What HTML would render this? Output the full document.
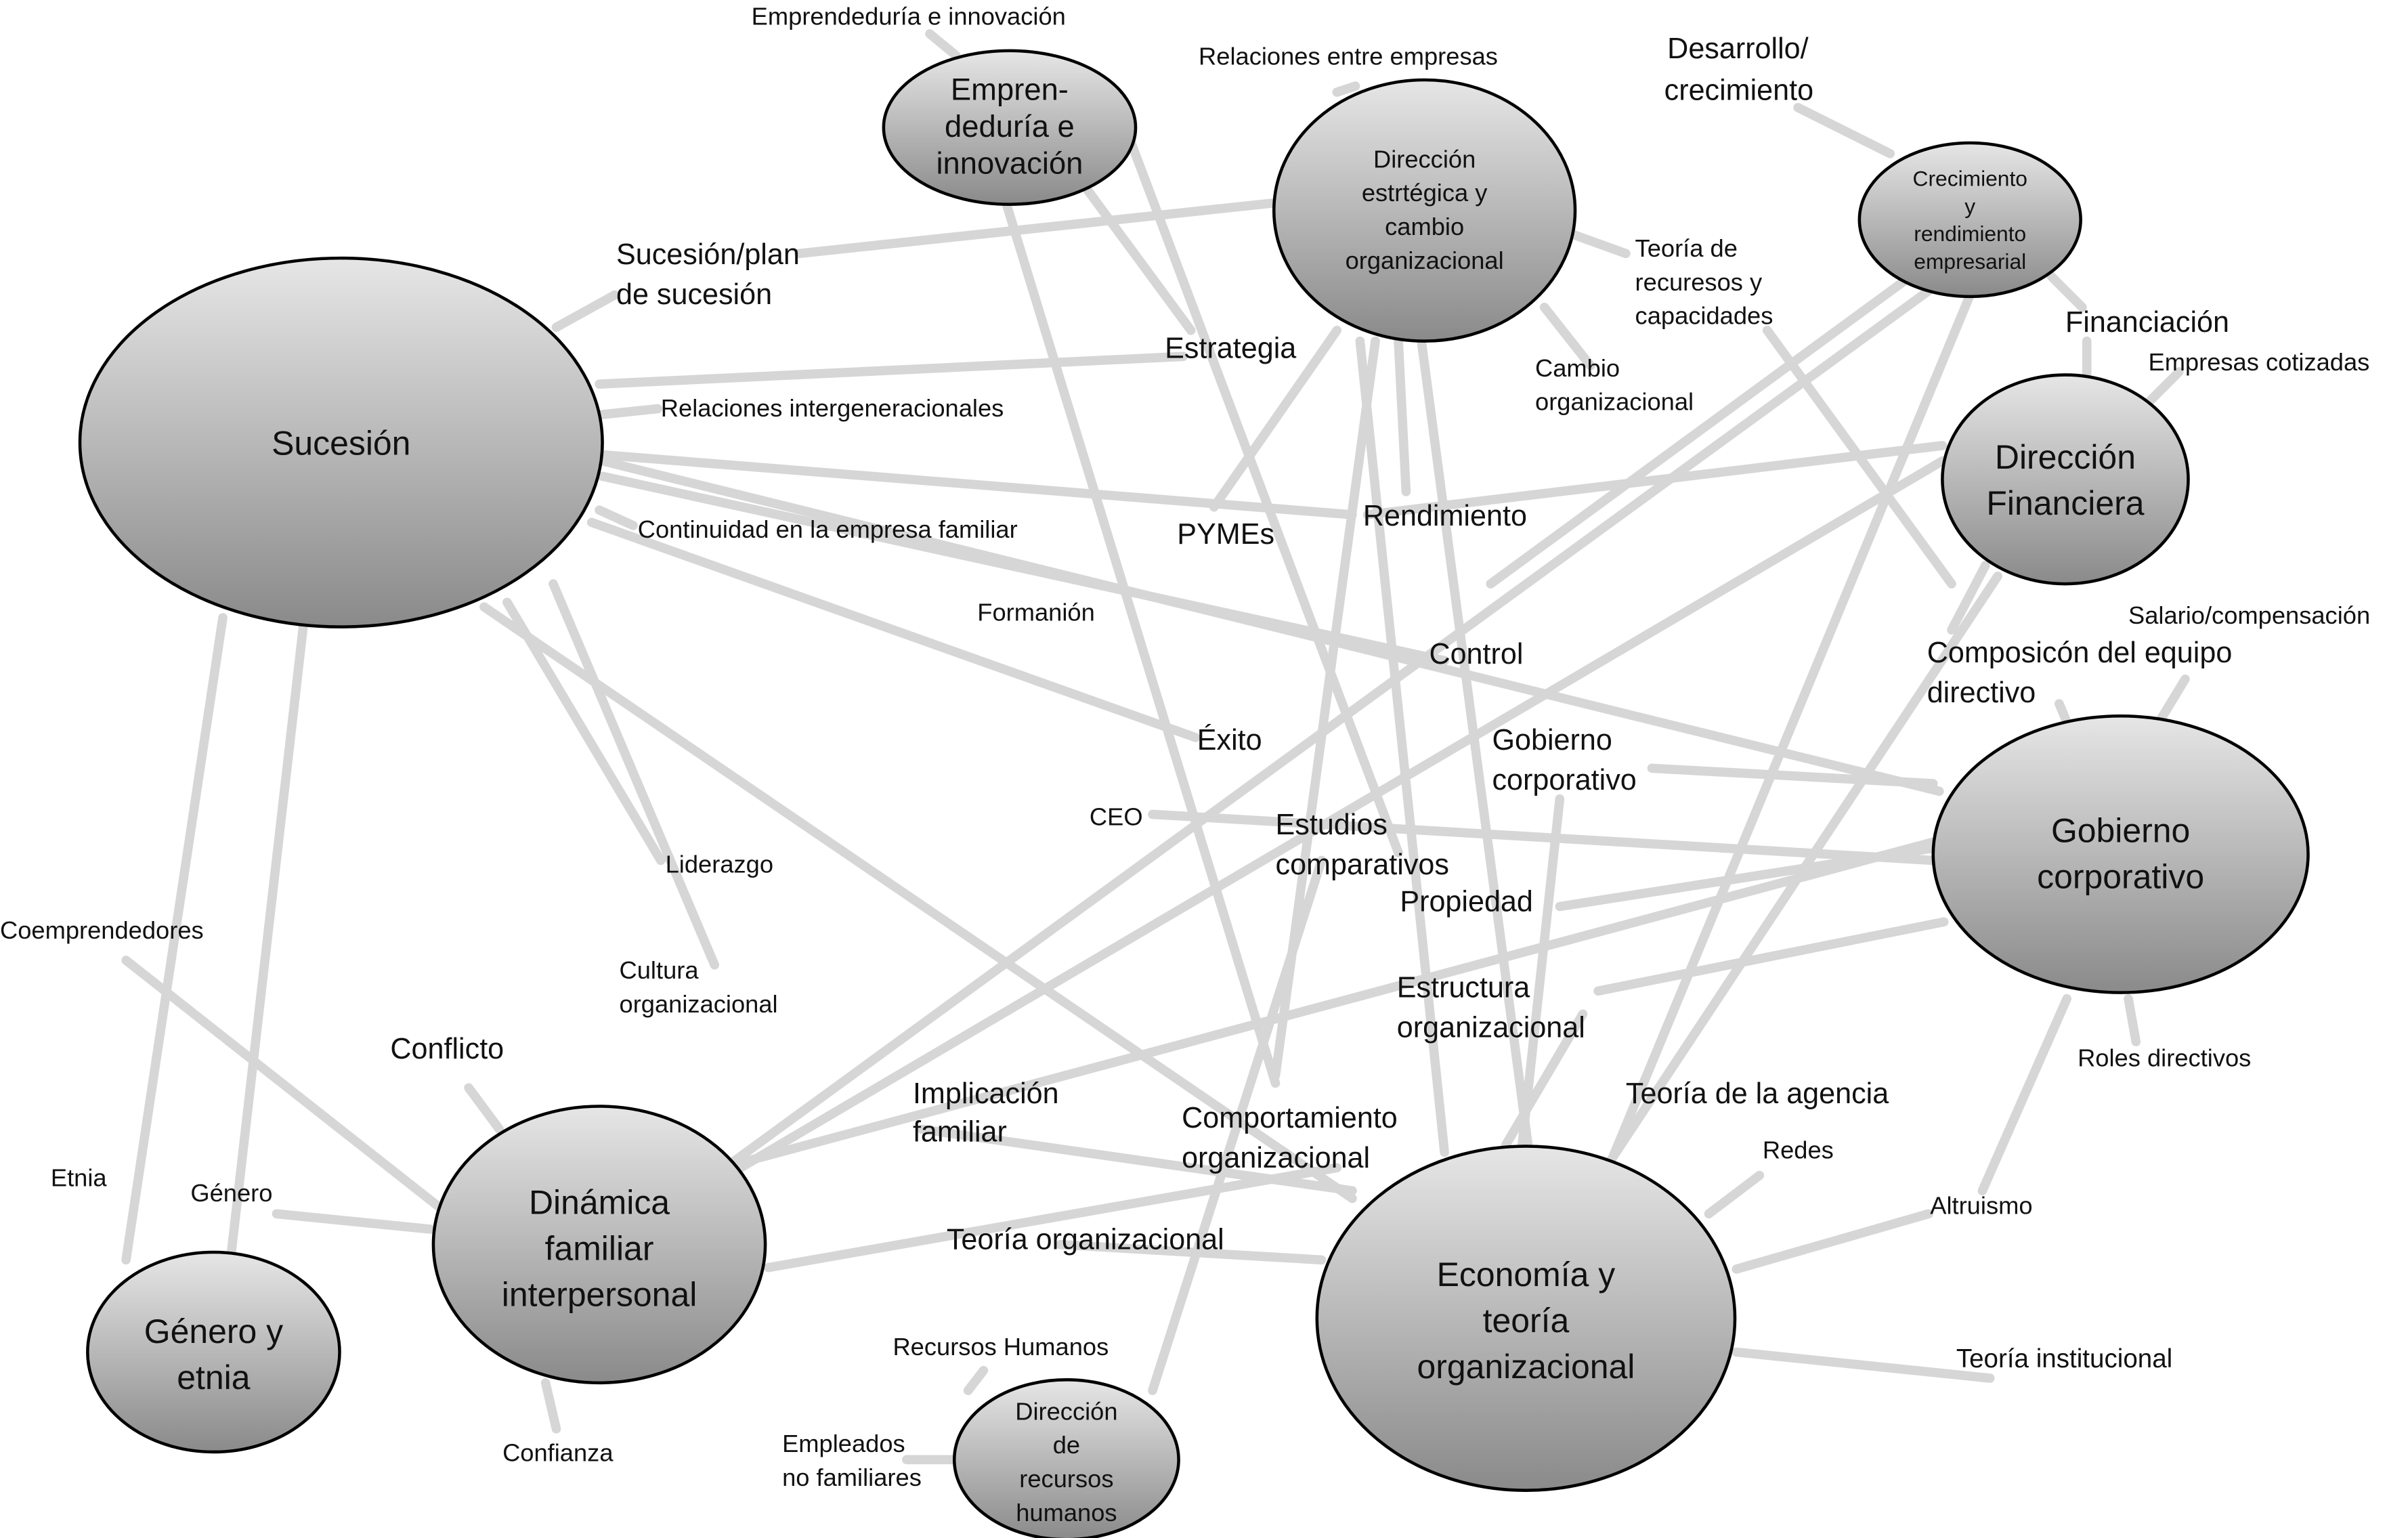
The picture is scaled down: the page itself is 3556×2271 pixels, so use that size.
<!DOCTYPE html>
<html><head><meta charset="utf-8"><style>
html,body{margin:0;padding:0;background:#fff;}
svg{display:block;}
text{font-family:"Liberation Sans",sans-serif;fill:#111;}
</style></head><body>
<svg width="3556" height="2271" viewBox="0 0 1567 1001" preserveAspectRatio="none" xmlns="http://www.w3.org/2000/svg">
<defs>
<linearGradient id="g" x1="0" y1="0" x2="0" y2="1">
<stop offset="0" stop-color="#e6e6e6"/><stop offset="1" stop-color="#8a8a8a"/>
</linearGradient>
</defs>
<g stroke="#d6d6d6" stroke-width="6" stroke-linecap="round" fill="none">
<!-- Sucesión edges -->
<line x1="362" y1="213" x2="400" y2="192"/>
<line x1="390" y1="250" x2="770" y2="232"/>
<line x1="390" y1="270" x2="428" y2="266"/>
<line x1="392" y1="296" x2="880" y2="335"/>
<line x1="392" y1="300" x2="1262" y2="515"/>
<line x1="392" y1="310" x2="940" y2="430"/>
<line x1="390" y1="332" x2="412" y2="342"/>
<line x1="385" y1="340" x2="778" y2="480"/>
<line x1="360" y1="380" x2="465" y2="628"/>
<line x1="330" y1="392" x2="430" y2="560"/>
<line x1="315" y1="395" x2="880" y2="780"/>
<line x1="145" y1="402" x2="82" y2="820"/>
<line x1="198" y1="402" x2="150" y2="820"/>
<line x1="82" y1="625" x2="285" y2="785"/>
<!-- Emprendeduría -->
<line x1="605" y1="22" x2="622" y2="36"/>
<line x1="655" y1="133" x2="830" y2="705"/>
<line x1="705" y1="120" x2="775" y2="215"/>
<line x1="735" y1="90" x2="910" y2="555"/>
<!-- Dirección estratégica -->
<line x1="520" y1="165" x2="830" y2="132"/>
<line x1="870" y1="60" x2="882" y2="56"/>
<line x1="885" y1="222" x2="940" y2="750"/>
<line x1="910" y1="222" x2="915" y2="320"/>
<line x1="925" y1="222" x2="995" y2="750"/>
<line x1="895" y1="222" x2="830" y2="700"/>
<line x1="870" y1="215" x2="790" y2="330"/>
<line x1="1005" y1="200" x2="1035" y2="238"/>
<line x1="1022" y1="152" x2="1058" y2="165"/>
<line x1="1150" y1="215" x2="1270" y2="380"/>
<!-- Crecimiento -->
<line x1="1230" y1="100" x2="1170" y2="70"/>
<line x1="1335" y1="180" x2="1355" y2="200"/>
<line x1="1265" y1="182" x2="465" y2="765"/>
<line x1="1250" y1="175" x2="970" y2="380"/>
<line x1="1282" y1="192" x2="1050" y2="752"/>
<!-- Dirección Financiera -->
<line x1="1264" y1="290" x2="890" y2="335"/>
<line x1="1264" y1="300" x2="465" y2="770"/>
<line x1="1358" y1="245" x2="1358" y2="222"/>
<line x1="1398" y1="262" x2="1418" y2="242"/>
<line x1="1292" y1="368" x2="1270" y2="410"/>
<line x1="1300" y1="375" x2="1045" y2="760"/>
<!-- Gobierno corporativo -->
<line x1="1258" y1="560" x2="750" y2="530"/>
<line x1="1258" y1="552" x2="1015" y2="590"/>
<line x1="1258" y1="510" x2="1075" y2="500"/>
<line x1="1258" y1="548" x2="470" y2="760"/>
<line x1="1265" y1="600" x2="1040" y2="645"/>
<line x1="1345" y1="470" x2="1340" y2="458"/>
<line x1="1405" y1="470" x2="1422" y2="442"/>
<line x1="1345" y1="650" x2="1290" y2="775"/>
<line x1="1385" y1="650" x2="1390" y2="678"/>
<line x1="1015" y1="520" x2="990" y2="750"/>
<!-- Economía -->
<line x1="1112" y1="790" x2="1145" y2="765"/>
<line x1="1130" y1="826" x2="1255" y2="790"/>
<line x1="1130" y1="880" x2="1295" y2="897"/>
<line x1="860" y1="820" x2="690" y2="810"/>
<line x1="880" y1="775" x2="600" y2="735"/>
<line x1="980" y1="745" x2="1030" y2="660"/>
<!-- Dinámica -->
<line x1="325" y1="735" x2="305" y2="708"/>
<line x1="280" y1="800" x2="180" y2="790"/>
<line x1="355" y1="900" x2="362" y2="930"/>
<line x1="500" y1="825" x2="870" y2="760"/>
<!-- RRHH -->
<line x1="630" y1="905" x2="640" y2="892"/>
<line x1="622" y1="950" x2="590" y2="950"/>
<line x1="750" y1="905" x2="860" y2="560"/>
</g>
<g stroke="#000" stroke-width="2" fill="url(#g)">
<ellipse cx="222" cy="288" rx="170" ry="120"/>
<ellipse cx="657" cy="83" rx="82" ry="50"/>
<ellipse cx="927" cy="137" rx="98" ry="85"/>
<ellipse cx="1282" cy="143" rx="72" ry="50"/>
<ellipse cx="1344" cy="312" rx="80" ry="68"/>
<ellipse cx="1380" cy="556" rx="122" ry="90"/>
<ellipse cx="993" cy="858" rx="136" ry="112"/>
<ellipse cx="390" cy="810" rx="108" ry="90"/>
<ellipse cx="139" cy="880" rx="82" ry="65"/>
<ellipse cx="694" cy="950" rx="73" ry="52"/>
</g>
<g text-anchor="middle">
<text x="222" y="296" font-size="22">Sucesión</text>
<text x="657" y="65" font-size="20">Empren-</text>
<text x="657" y="89" font-size="20">deduría e</text>
<text x="657" y="113" font-size="20">innovación</text>
<text x="927" y="109" font-size="16">Dirección</text>
<text x="927" y="131" font-size="16">estrtégica y</text>
<text x="927" y="153" font-size="16">cambio</text>
<text x="927" y="175" font-size="16">organizacional</text>
<text x="1282" y="121" font-size="14">Crecimiento</text>
<text x="1282" y="139" font-size="14">y</text>
<text x="1282" y="157" font-size="14">rendimiento</text>
<text x="1282" y="175" font-size="14">empresarial</text>
<text x="1344" y="305" font-size="22">Dirección</text>
<text x="1344" y="335" font-size="22">Financiera</text>
<text x="1380" y="548" font-size="22">Gobierno</text>
<text x="1380" y="578" font-size="22">corporativo</text>
<text x="993" y="837" font-size="22">Economía y</text>
<text x="993" y="867" font-size="22">teoría</text>
<text x="993" y="897" font-size="22">organizacional</text>
<text x="390" y="790" font-size="22">Dinámica</text>
<text x="390" y="820" font-size="22">familiar</text>
<text x="390" y="850" font-size="22">interpersonal</text>
<text x="139" y="874" font-size="22">Género y</text>
<text x="139" y="904" font-size="22">etnia</text>
<text x="694" y="924" font-size="16">Dirección</text>
<text x="694" y="946" font-size="16">de</text>
<text x="694" y="968" font-size="16">recursos</text>
<text x="694" y="990" font-size="16">humanos</text>
</g>
<g font-size="16">
<text x="489" y="16">Emprendeduría e innovación</text>
<text x="780" y="42">Relaciones entre empresas</text>
<text x="1085" y="38" font-size="19">Desarrollo/</text>
<text x="1083" y="65" font-size="19">crecimiento</text>
<text x="401" y="172" font-size="19">Sucesión/plan</text>
<text x="401" y="198" font-size="19">de sucesión</text>
<text x="1064" y="167">Teoría de</text>
<text x="1064" y="189">recuresos y</text>
<text x="1064" y="211">capacidades</text>
<text x="1344" y="216" font-size="19">Financiación</text>
<text x="1398" y="241">Empresas cotizadas</text>
<text x="758" y="233" font-size="19">Estrategia</text>
<text x="999" y="245">Cambio</text>
<text x="999" y="267">organizacional</text>
<text x="430" y="271">Relaciones intergeneracionales</text>
<text x="887" y="342" font-size="19">Rendimiento</text>
<text x="415" y="350">Continuidad en la empresa familiar</text>
<text x="766" y="354" font-size="19">PYMEs</text>
<text x="636" y="404">Formanión</text>
<text x="1385" y="406">Salario/compensación</text>
<text x="1254" y="431" font-size="19">Composicón del equipo</text>
<text x="1254" y="457" font-size="19">directivo</text>
<text x="930" y="432" font-size="19">Control</text>
<text x="779" y="488" font-size="19">Éxito</text>
<text x="971" y="488" font-size="19">Gobierno</text>
<text x="971" y="514" font-size="19">corporativo</text>
<text x="709" y="537">CEO</text>
<text x="830" y="543" font-size="19">Estudios</text>
<text x="830" y="569" font-size="19">comparativos</text>
<text x="433" y="568">Liderazgo</text>
<text x="911" y="593" font-size="19">Propiedad</text>
<text x="0" y="611">Coemprendedores</text>
<text x="403" y="637">Cultura</text>
<text x="403" y="659">organizacional</text>
<text x="909" y="649" font-size="19">Estructura</text>
<text x="909" y="675" font-size="19">organizacional</text>
<text x="254" y="689" font-size="19">Conflicto</text>
<text x="1352" y="694">Roles directivos</text>
<text x="594" y="718" font-size="19">Implicación</text>
<text x="594" y="743" font-size="19">familiar</text>
<text x="1058" y="718" font-size="19">Teoría de la agencia</text>
<text x="769" y="734" font-size="19">Comportamiento</text>
<text x="769" y="760" font-size="19">organizacional</text>
<text x="1147" y="754">Redes</text>
<text x="33" y="772">Etnia</text>
<text x="124" y="782">Género</text>
<text x="1256" y="790">Altruismo</text>
<text x="616" y="813" font-size="19">Teoría organizacional</text>
<text x="581" y="882">Recursos Humanos</text>
<text x="1273" y="890" font-size="17">Teoría institucional</text>
<text x="509" y="945">Empleados</text>
<text x="509" y="967">no familiares</text>
<text x="327" y="951">Confianza</text>
</g>
</svg>
</body></html>
